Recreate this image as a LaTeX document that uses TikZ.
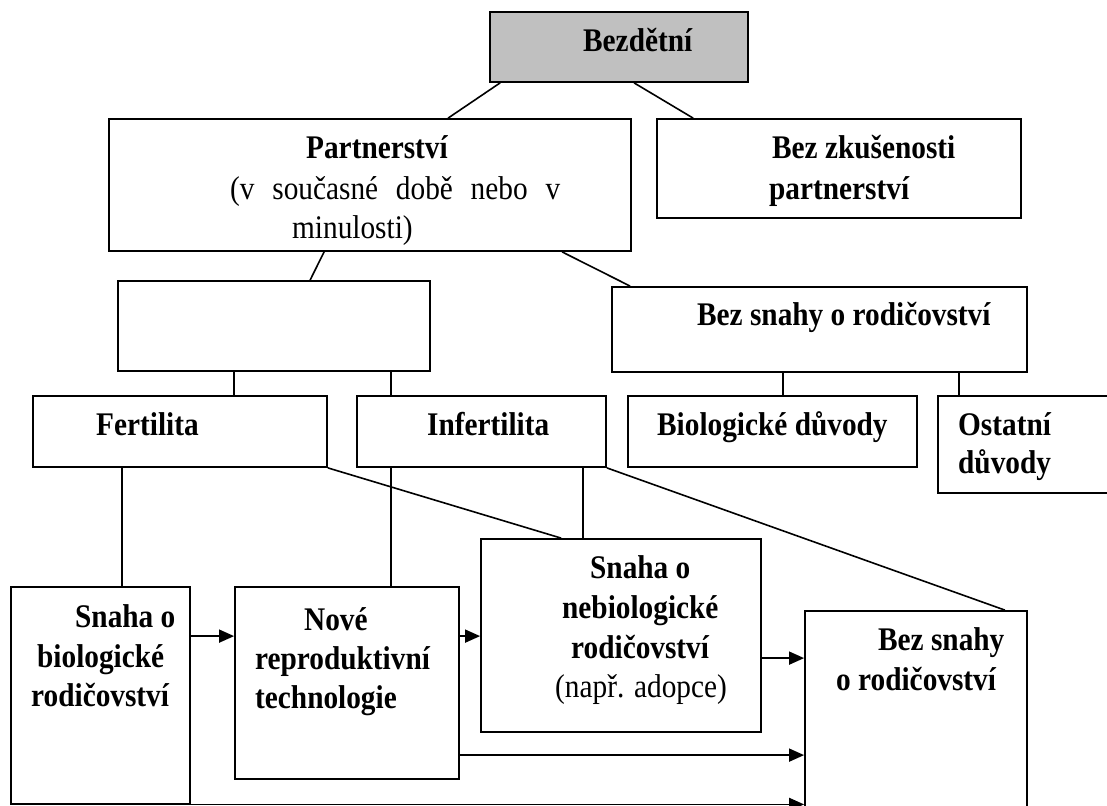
\documentclass[tikz,border=0pt]{standalone}
\usepackage{fontspec}
\setmainfont{Liberation Serif}
\usetikzlibrary{arrows.meta,calc}
\tikzset{
  box/.style={draw=black, line width=1.8pt, rectangle, inner sep=0pt, fill=white},
  t/.style={anchor=base west, inner sep=0pt, xscale=0.888, font=\fontsize{33}{40}\selectfont\bfseries},
  tr/.style={anchor=base west, inner sep=0pt, xscale=0.888, font=\fontsize{33}{40}\selectfont},
  ln/.style={line width=1.6pt},
  arr/.style={line width=1.6pt, -{Triangle[length=15pt,width=13pt]}}
}
\newcommand{\js}{\ \hspace{11.8pt}}
\begin{document}
\begin{tikzpicture}[x=1pt,y=-1pt]
\useasboundingbox (0,0) rectangle (1107,805);
% boxes
\node[box, fill={rgb,255:red,192;green,192;blue,192}, minimum width=258pt, minimum height=70pt] (bez) at (619,47) {};
\node[box, minimum width=522pt, minimum height=132pt] (part) at (370,185) {};
\node[box, minimum width=364pt, minimum height=99pt] (bzk) at (839,168.5) {};
\node[box, minimum width=312pt, minimum height=90pt] (empty) at (274,326) {};
\node[box, minimum width=415pt, minimum height=85pt] (bsn1) at (819.5,329.5) {};
\node[box, minimum width=294pt, minimum height=71pt] (fert) at (180,431.5) {};
\node[box, minimum width=249pt, minimum height=71pt] (inf) at (481.5,431.5) {};
\node[box, minimum width=289pt, minimum height=71pt] (bio) at (772.5,431.5) {};
\node[box, minimum width=174pt, minimum height=97pt] (ost) at (1025,444.5) {};
\node[box, minimum width=179pt, minimum height=217pt] (sbio) at (100.5,695.5) {};
\node[box, minimum width=224pt, minimum height=192pt] (nrt) at (347,683) {};
\node[box, minimum width=280pt, minimum height=193pt] (nebio) at (621,635.5) {};
\node[box, minimum width=222pt, minimum height=199pt] (bsn2) at (916,710.5) {};
% texts
\node[t] (tbez) at (583,52) {Bezdětní};
\node[t] (tpart1) at (306,159) {Partnerství};
\node[tr] (tpart2) at (230,199) {(v\js současné\js době\js nebo\js v};
\node[tr] (tpart3) at (292,238) {minulosti)};
\node[t] (tbzk1) at (772,159) {Bez zkušenosti};
\node[t] (tbzk2) at (769,199) {partnerství};
\node[t] (tbsn1) at (697,325) {Bez snahy o rodičovství};
\node[t] (tfert) at (96,435) {Fertilita};
\node[t] (tinf) at (427,435) {Infertilita};
\node[t] (tbio) at (657,435) {Biologické důvody};
\node[t] (tost1) at (958,435) {Ostatní};
\node[t] (tost2) at (958,473) {důvody};
\node[t] (tsbio1) at (75,627) {Snaha o};
\node[t] (tsbio2) at (37,667) {biologické};
\node[t] (tsbio3) at (31,706) {rodičovství};
\node[t] (tnrt1) at (304,630) {Nové};
\node[t] (tnrt2) at (255,669) {reproduktivní};
\node[t] (tnrt3) at (255,708) {technologie};
\node[t] (tneb1) at (590,578) {Snaha o};
\node[t] (tneb2) at (562,618) {nebiologické};
\node[t] (tneb3) at (571,658) {rodičovství};
\node[tr] (tneb4) at (555,697) {(např. adopce)};
\node[t] (tbsn21) at (878,650) {Bez snahy};
\node[t] (tbsn22) at (836,690) {o rodičovství};
% connectors
\draw[ln] ([xshift=11pt]bez.south west) -- ([xshift=340pt]part.north west);
\draw[ln] ([xshift=145pt]bez.south west) -- ([xshift=37pt]bzk.north west);
\draw[ln] ([xshift=216pt]part.south west) -- ([xshift=193pt]empty.north west);
\draw[ln] ([xshift=454pt]part.south west) -- ([xshift=19pt]bsn1.north west);
\coordinate (c1) at ([xshift=117pt]empty.south west);
\draw[ln] (c1) -- (c1 |- fert.north);
\coordinate (c2) at ([xshift=274pt]empty.south west);
\draw[ln] (c2) -- (c2 |- inf.north);
\coordinate (c3) at ([xshift=172pt]bsn1.south west);
\draw[ln] (c3) -- (c3 |- bio.north);
\coordinate (c4) at ([xshift=348pt]bsn1.south west);
\draw[ln] (c4) -- (c4 |- ost.north);
\coordinate (c5) at ([xshift=90pt]fert.south west);
\draw[ln] (c5) -- (c5 |- sbio.north);
\coordinate (c6) at ([xshift=35pt]inf.south west);
\draw[ln] (c6) -- (c6 |- nrt.north);
\draw[ln] (fert.south east) -- ([xshift=81pt]nebio.north west);
\coordinate (c7) at ([xshift=227pt]inf.south west);
\draw[ln] (c7) -- (c7 |- nebio.north);
\draw[ln] (inf.south east) -- ([xshift=-23pt]bsn2.north east);
% arrows
\coordinate (a1) at ([yshift=-50pt]sbio.north east);
\draw[arr] (a1) -- (a1 -| nrt.west);
\coordinate (a2) at ([yshift=-50pt]nrt.north east);
\draw[arr] (a2) -- (a2 -| nebio.west);
\coordinate (a3) at ([yshift=-120pt]nebio.north east);
\draw[arr] (a3) -- (a3 -| bsn2.west);
\coordinate (a4) at ([yshift=-169pt]nrt.north east);
\draw[arr] (a4) -- (a4 -| bsn2.west);
\coordinate (a5) at ([yshift=0.5pt]sbio.south east);
\draw[arr] (a5) -- (a5 -| bsn2.west);
\end{tikzpicture}
\end{document}
